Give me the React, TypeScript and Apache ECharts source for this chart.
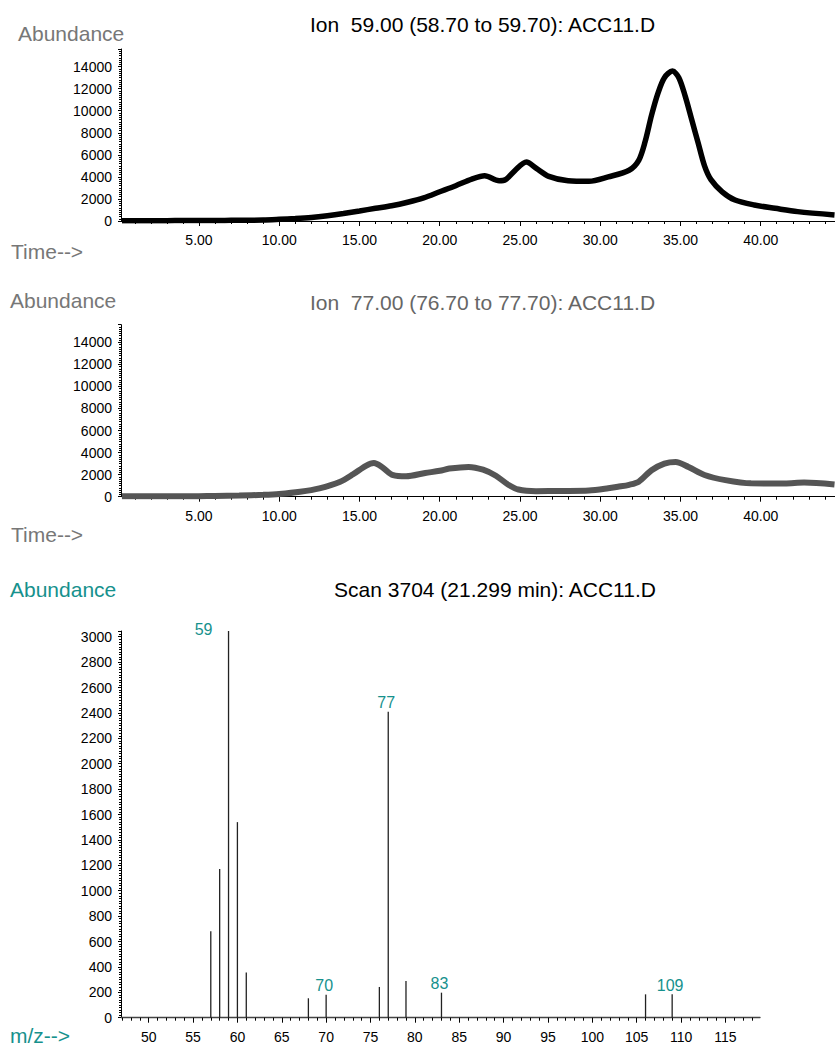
import React, { useEffect, useRef } from "react";
import * as echarts from "echarts";

// ---- Data ----
// Ion 59.00 chromatogram (time in min, abundance)
const ion59Times = [0.2, 1, 2, 3, 4, 5, 6, 7, 8, 9, 10, 11, 12, 13, 14, 15, 16, 17, 18, 19, 20, 21, 22, 22.8, 23.7, 24.1, 24.7, 25.4, 26.0, 26.8, 28.0, 29.3, 30.5, 31.8, 32.4, 32.8, 33.2, 33.6, 34.0, 34.5, 34.9, 35.3, 35.7, 36.1, 36.5, 36.9, 37.6, 38.4, 39.6, 40.9, 42.3, 44.6];
const ion59Values = [20, 30, 30, 30, 40, 40, 40, 60, 70, 90, 150, 220, 320, 480, 680, 910, 1150, 1380, 1700, 2100, 2650, 3200, 3800, 4100, 3650, 3750, 4600, 5350, 4800, 4050, 3650, 3600, 4000, 4600, 5500, 7200, 9600, 11600, 13000, 13600, 13000, 11300, 9200, 7100, 5000, 3750, 2650, 1900, 1450, 1150, 850, 550];

// Ion 77.00 chromatogram
const ion77Times = [0.2, 2, 4, 5, 6, 7.5, 9, 10, 11.3, 12.5, 13.8, 14.6, 15.4, 15.9, 16.4, 17.1, 17.9, 19.1, 20.0, 20.6, 21.8, 22.7, 23.5, 24.3, 24.9, 26.0, 27.6, 29.3, 30.5, 31.1, 31.8, 32.4, 33.2, 34.0, 34.7, 35.5, 36.5, 37.8, 39.4, 41.5, 42.7, 44.6];
const ion77Values = [30, 30, 30, 50, 60, 100, 170, 250, 450, 760, 1360, 2030, 2800, 3050, 2700, 1950, 1850, 2150, 2350, 2550, 2700, 2450, 1900, 1060, 650, 500, 520, 560, 760, 900, 1080, 1360, 2400, 3000, 3150, 2700, 1970, 1500, 1210, 1200, 1280, 1100];

// Scan 3704 mass spectrum
const mzValues = [57, 58, 59, 60, 61, 68, 70, 76, 77, 79, 83, 106, 109];
const mzAbundance = [680, 1170, 3045, 1540, 355, 153, 180, 242, 2410, 289, 197, 184, 184];
const labeledPeaks = [59, 70, 77, 83, 109];

// Tick labels
const timeMajorTicks = [5, 10, 15, 20, 25, 30, 35, 40];
const timeMinorTicks = [1, 2, 3, 4, 6, 7, 8, 9, 11, 12, 13, 14, 16, 17, 18, 19, 21, 22, 23, 24, 26, 27, 28, 29, 31, 32, 33, 34, 36, 37, 38, 39, 41, 42, 43, 44];
const mzMajorTicks = [50, 55, 60, 65, 70, 75, 80, 85, 90, 95, 100, 105, 110, 115];
const mzMinorTicks = [47, 48, 49, 51, 52, 53, 54, 56, 57, 58, 59, 61, 62, 63, 64, 66, 67, 68, 69, 71, 72, 73, 74, 76, 77, 78, 79, 81, 82, 83, 84, 86, 87, 88, 89, 91, 92, 93, 94, 96, 97, 98, 99, 101, 102, 103, 104, 106, 107, 108, 109, 111, 112, 113, 114, 116, 117, 118];

const FONT = '"Liberation Sans", Arial, Helvetica, sans-serif';
const TEAL = "#16918d";

function pairs(xs: number[], ys: number[]) {
  return xs.map((x, i) => [x, ys[i]]);
}

function timeAxes(gridIndex: number) {
  const common = { type: "value", gridIndex, min: 0.14, max: 44.63, position: "bottom", splitLine: { show: false } };
  return [
    {
      ...common,
      axisLine: { show: true, onZero: false, lineStyle: { color: "#000", width: 1 } },
      axisTick: { show: true, length: 5, customValues: timeMajorTicks, lineStyle: { color: "#000" } },
      axisLabel: { show: true, customValues: timeMajorTicks, formatter: (v: number) => v.toFixed(2), fontSize: 14, fontFamily: FONT, color: "#000", margin: 12 },
    },
    {
      ...common,
      axisLine: { show: false },
      axisTick: { show: true, length: 3, customValues: timeMinorTicks, lineStyle: { color: "#000" } },
      axisLabel: { show: false },
    },
  ];
}

function abundanceAxis(gridIndex: number, max: number, interval: number) {
  return {
    type: "value",
    gridIndex,
    min: 0,
    max,
    interval,
    splitLine: { show: false },
    axisLine: { show: true, lineStyle: { color: "#000", width: 1 } },
    axisTick: { show: true, length: 3, lineStyle: { color: "#000" } },
    minorTick: { show: true, splitNumber: 10, length: 2, lineStyle: { color: "#000" } },
    axisLabel: {
      fontSize: 14,
      fontFamily: FONT,
      color: "#000",
      margin: 9,
      showMaxLabel: false,
      formatter: (v: number) => (v % interval === 0 ? String(v) : ""),
    },
  };
}

function textEl(text: string, x: number, y: number, color: string, align: string = "left") {
  return {
    type: "text",
    x,
    y,
    style: { text, fill: color, font: `21px ${FONT}`, textAlign: align, textVerticalAlign: "middle" },
  };
}

export default function App() {
  const ref = useRef<HTMLDivElement>(null);

  useEffect(() => {
    if (!ref.current) return;
    const chart = echarts.init(ref.current, null, { renderer: "svg" });

    const spectrumData = mzValues.map((mz, i) => {
      const item: any = { value: [mz, mzAbundance[i]] };
      if (labeledPeaks.includes(mz)) {
        item.label = {
          show: true,
          position: "top",
          distance: 1,
          offset: mz === 59 ? [-25, 7] : [-2, 0],
          formatter: String(mz),
          color: TEAL,
          fontSize: 16,
          fontFamily: FONT,
        };
      }
      return item;
    });

    const option: any = {
      animation: false,
      backgroundColor: "#fff",
      grid: [
        { left: 121, top: 49, width: 714, height: 172 },
        { left: 121, top: 324.7, width: 714, height: 172 },
        { left: 121, top: 631, width: 639, height: 386.7 },
      ],
      xAxis: [
        ...timeAxes(0),
        ...timeAxes(1),
        {
          type: "value",
          gridIndex: 2,
          min: 46.88,
          max: 118.9,
          position: "bottom",
          splitLine: { show: false },
          axisLine: { show: true, onZero: false, lineStyle: { color: "#444", width: 1.4 } },
          axisTick: { show: true, length: 5, customValues: mzMajorTicks, lineStyle: { color: "#000" } },
          axisLabel: { show: true, customValues: mzMajorTicks, fontSize: 14, fontFamily: FONT, color: "#000", margin: 12 },
        },
        {
          type: "value",
          gridIndex: 2,
          min: 46.88,
          max: 118.9,
          position: "bottom",
          splitLine: { show: false },
          axisLine: { show: false },
          axisTick: { show: true, length: 3, customValues: mzMinorTicks, lineStyle: { color: "#000" } },
          axisLabel: { show: false },
        },
      ],
      yAxis: [abundanceAxis(0, 15600, 2000), abundanceAxis(1, 15600, 2000), abundanceAxis(2, 3045, 200)],
      series: [
        {
          type: "line",
          xAxisIndex: 0,
          yAxisIndex: 0,
          data: pairs(ion59Times, ion59Values),
          showSymbol: false,
          smooth: 0.3,
          lineStyle: { color: "#000", width: 5.5 },
          silent: true,
        },
        {
          type: "line",
          xAxisIndex: 2,
          yAxisIndex: 1,
          data: pairs(ion77Times, ion77Values),
          showSymbol: false,
          smooth: 0.3,
          lineStyle: { color: "#555", width: 6 },
          silent: true,
        },
        {
          type: "bar",
          xAxisIndex: 4,
          yAxisIndex: 2,
          data: spectrumData,
          barWidth: 1.3,
          itemStyle: { color: "#222" },
          silent: true,
        },
      ],
      graphic: [
        textEl("Abundance", 18, 33, "#777"),
        textEl("Ion  59.00 (58.70 to 59.70): ACC11.D", 482.5, 24, "#000", "center"),
        textEl("Time-->", 11, 251, "#777"),
        textEl("Abundance", 10, 300, "#777"),
        textEl("Ion  77.00 (76.70 to 77.70): ACC11.D", 482.5, 302, "#666", "center"),
        textEl("Time-->", 11, 534, "#777"),
        textEl("Abundance", 10, 589, TEAL),
        textEl("Scan 3704 (21.299 min): ACC11.D", 495, 589, "#000", "center"),
        textEl("m/z-->", 10, 1035, TEAL),
      ],
    };

    chart.setOption(option);
    return () => chart.dispose();
  }, []);

  return <div ref={ref} style={{ position: "absolute", left: 0, top: 0, width: 835, height: 1049 }} />;
}
